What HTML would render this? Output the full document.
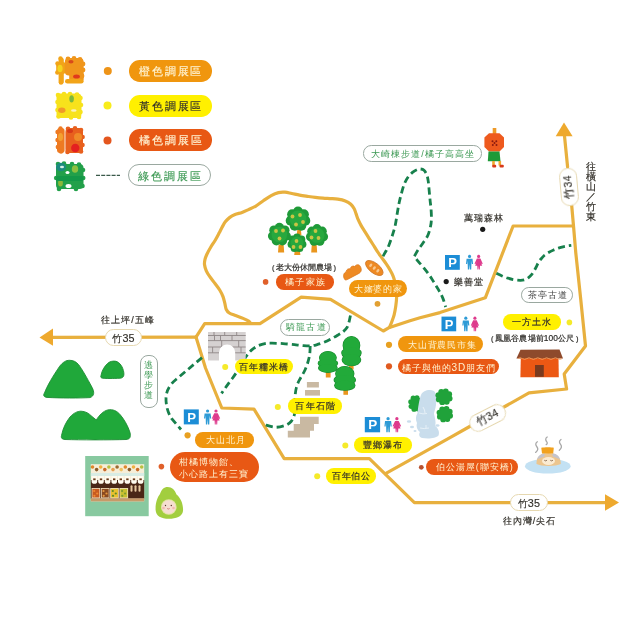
<!DOCTYPE html>
<html><head><meta charset="utf-8"><style>
html,body{margin:0;padding:0;background:#fff;}
#c{position:relative;filter:blur(0.35px);width:640px;height:640px;overflow:hidden;background:#fff;font-family:"Liberation Sans",sans-serif;}
#c svg{position:absolute;left:0;top:0;will-change:transform;}
.p{position:absolute;will-change:transform;box-sizing:content-box;text-align:center;white-space:nowrap;overflow:hidden;}
.t{position:absolute;will-change:transform;white-space:nowrap;line-height:1.2;-webkit-text-stroke:0.2px #33302A;}
</style></head><body><div id="c">
<svg width="640" height="640" viewBox="0 0 640 640">
<polyline points="52,337.4 196,337.2" fill="none" stroke="#E8B03E" stroke-width="3.2" stroke-linejoin="round" stroke-linecap="round"/>
<polyline points="196,337.2 204.7,323.7 260,323.6 301.2,297.2 330.5,299.3 383.3,331 389.5,327.4 410,320.7 420,317.8 440,312.6 485.3,297.8 513.1,226 573.4,226" fill="none" stroke="#E8B03E" stroke-width="3.2" stroke-linejoin="round" stroke-linecap="round"/>
<polyline points="564.5,136 567.6,167" fill="none" stroke="#E8B03E" stroke-width="3.2" stroke-linejoin="round" stroke-linecap="round"/>
<polyline points="571.7,205.5 573.6,227 575.8,253 580.8,300 583.2,323.4 585.5,346 564.2,374 566.6,389 529,392.8 504,407 470.6,426 450,437.6 385.5,473.6" fill="none" stroke="#E8B03E" stroke-width="3.2" stroke-linejoin="round" stroke-linecap="round"/>
<polyline points="196,337 205.5,368 221.8,408 254,409.2 284.2,458.6 369.4,458.6 414.4,502.6 605,502.6" fill="none" stroke="#E8B03E" stroke-width="3.2" stroke-linejoin="round" stroke-linecap="round"/>
<path d="M250.60,323.20 C250.28,322.87 249.95,322.00 248.70,321.20 C247.45,320.40 245.28,319.33 243.10,318.40 C240.92,317.47 237.90,316.50 235.60,315.60 C233.30,314.70 230.85,314.02 229.30,313.00 C227.75,311.98 227.05,311.13 226.30,309.50 C225.55,307.87 225.35,305.35 224.80,303.20 C224.25,301.05 223.85,298.80 223.00,296.60 C222.15,294.40 221.03,292.18 219.70,290.00 C218.37,287.82 216.65,285.72 215.00,283.50 C213.35,281.28 211.25,278.82 209.80,276.70 C208.35,274.58 207.18,272.83 206.30,270.80 C205.42,268.77 204.72,266.40 204.50,264.50 C204.28,262.60 204.60,261.12 205.00,259.40 C205.40,257.68 205.95,256.23 206.90,254.20 C207.85,252.17 209.32,249.53 210.70,247.20 C212.08,244.87 213.80,242.55 215.20,240.20 C216.60,237.85 217.92,235.32 219.10,233.10 C220.28,230.88 221.23,228.82 222.30,226.90 C223.37,224.98 224.30,223.15 225.50,221.60 C226.70,220.05 227.92,218.78 229.50,217.60 C231.08,216.42 232.92,215.37 235.00,214.50 C237.08,213.63 239.75,213.22 242.00,212.40 C244.25,211.58 246.25,210.62 248.50,209.60 C250.75,208.58 253.03,207.77 255.50,206.30 C257.97,204.83 260.68,202.58 263.30,200.80 C265.92,199.02 268.67,196.97 271.20,195.60 C273.73,194.23 276.20,193.17 278.50,192.60 C280.80,192.03 282.78,192.05 285.00,192.20 C287.22,192.35 289.37,193.02 291.80,193.50 C294.23,193.98 297.00,194.63 299.60,195.10 C302.20,195.57 304.78,195.92 307.40,196.30 C310.02,196.68 312.70,197.08 315.30,197.40 C317.90,197.72 320.55,198.00 323.00,198.20 C325.45,198.40 327.53,198.45 330.00,198.60 C332.47,198.75 335.25,198.72 337.80,199.10 C340.35,199.48 343.13,200.03 345.30,200.90 C347.47,201.77 349.32,202.98 350.80,204.30 C352.28,205.62 353.33,207.25 354.20,208.80 C355.07,210.35 355.33,211.78 356.00,213.60 C356.67,215.42 357.32,217.65 358.20,219.70 C359.08,221.75 360.13,223.82 361.30,225.90 C362.47,227.98 363.88,230.08 365.20,232.20 C366.52,234.32 367.90,236.55 369.20,238.60 C370.50,240.65 371.65,242.37 373.00,244.50 C374.35,246.63 375.82,249.17 377.30,251.40 C378.78,253.63 380.38,255.77 381.90,257.90 C383.42,260.03 385.02,262.13 386.40,264.20 C387.78,266.27 389.12,268.40 390.20,270.30 C391.28,272.20 392.17,273.82 392.90,275.60 C393.63,277.38 394.08,278.85 394.60,281.00 C395.12,283.15 395.67,285.78 396.00,288.50 C396.33,291.22 396.63,294.40 396.60,297.30 C396.57,300.20 396.20,303.02 395.80,305.90 C395.40,308.78 394.83,312.05 394.20,314.60 C393.57,317.15 392.78,319.07 392.00,321.20 C391.22,323.33 389.92,326.37 389.50,327.40" fill="none" stroke="#E8B03E" stroke-width="3.2" stroke-linecap="round"/>
<polygon points="39.5,337.4 53,328.6 53,345.8" fill="#EEA92E"/>
<polygon points="564,122.6 555.7,136.2 572.6,136.2" fill="#EEA92E"/>
<polygon points="619,502.5 605,494.2 605,510.8" fill="#EEA92E"/>
<path d="M383.00,256.20 C383.55,255.25 385.30,252.37 386.30,250.50 C387.30,248.63 387.97,247.58 389.00,245.00 C390.03,242.42 391.45,238.33 392.50,235.00 C393.55,231.67 394.50,228.67 395.30,225.00 C396.10,221.33 396.65,216.75 397.30,213.00 C397.95,209.25 398.48,205.87 399.20,202.50 C399.92,199.13 400.73,195.92 401.60,192.80 C402.47,189.68 403.32,186.43 404.40,183.80 C405.48,181.17 406.70,178.93 408.10,177.00 C409.50,175.07 411.23,173.45 412.80,172.20 C414.37,170.95 416.20,170.03 417.50,169.50 C418.80,168.97 419.52,168.87 420.60,169.00 C421.68,169.13 422.95,169.30 424.00,170.30 C425.05,171.30 426.18,173.12 426.90,175.00 C427.62,176.88 427.92,178.95 428.30,181.60 C428.68,184.25 428.90,187.78 429.20,190.90 C429.50,194.02 429.78,197.17 430.10,200.30 C430.42,203.43 430.88,206.58 431.10,209.70 C431.32,212.82 431.48,216.28 431.40,219.00 C431.32,221.72 431.17,223.33 430.60,226.00 C430.03,228.67 429.27,232.17 428.00,235.00 C426.73,237.83 424.67,240.50 423.00,243.00 C421.33,245.50 419.47,247.73 418.00,250.00 C416.53,252.27 414.83,255.50 414.20,256.60 L414.20,256.60 C414.90,257.43 416.77,259.68 418.40,261.60 C420.03,263.52 422.12,265.77 424.00,268.10 C425.88,270.43 427.97,273.10 429.70,275.60 C431.43,278.10 432.85,280.60 434.40,283.10 C435.95,285.60 437.60,288.10 439.00,290.60 C440.40,293.10 441.68,295.37 442.80,298.10 C443.92,300.83 445.22,305.52 445.70,307.00" fill="none" stroke="#17804C" stroke-width="2.8" stroke-dasharray="7 4"/>
<path d="M350.40,315.50 C350.17,316.58 349.57,320.00 349.00,322.00 C348.43,324.00 348.00,325.87 347.00,327.50 C346.00,329.13 344.40,330.62 343.00,331.80 C341.60,332.98 340.60,333.40 338.60,334.60 C336.60,335.80 333.47,337.70 331.00,339.00 C328.53,340.30 326.22,341.43 323.80,342.40 C321.38,343.37 318.77,344.22 316.50,344.80 C314.23,345.38 312.62,345.78 310.20,345.90 C307.78,346.02 304.63,345.70 302.00,345.50 C299.37,345.30 297.57,345.02 294.40,344.70 C291.23,344.38 286.73,343.85 283.00,343.60 C279.27,343.35 275.02,343.20 272.00,343.20 C268.98,343.20 267.32,343.13 264.90,343.60 C262.48,344.07 259.58,345.03 257.50,346.00 C255.42,346.97 253.88,348.20 252.40,349.40 C250.92,350.60 249.77,351.83 248.60,353.20 C247.43,354.57 246.58,355.77 245.40,357.60 C244.22,359.43 242.82,362.00 241.50,364.20 C240.18,366.40 238.92,368.58 237.50,370.80 C236.08,373.02 234.48,375.40 233.00,377.50 C231.52,379.60 229.93,381.58 228.60,383.40 C227.27,385.22 226.18,386.73 225.00,388.40 C223.82,390.07 222.08,392.57 221.50,393.40" fill="none" stroke="#17804C" stroke-width="2.8" stroke-dasharray="7 4"/>
<path d="M310.20,346.00 C310.12,347.40 310.10,351.65 309.70,354.40 C309.30,357.15 308.58,359.90 307.80,362.50 C307.02,365.10 306.03,367.72 305.00,370.00 C303.97,372.28 302.67,374.28 301.60,376.20 C300.53,378.12 299.47,379.62 298.60,381.50 C297.73,383.38 296.95,385.42 296.40,387.50 C295.85,389.58 295.53,391.75 295.30,394.00 C295.07,396.25 295.08,398.58 295.00,401.00 C294.92,403.42 294.93,406.08 294.80,408.50 C294.67,410.92 294.78,413.38 294.20,415.50 C293.62,417.62 292.75,419.57 291.30,421.20 C289.85,422.83 288.13,424.28 285.50,425.30 C282.87,426.32 278.67,427.32 275.50,427.30 C272.33,427.28 268.48,425.78 266.50,425.20 C264.52,424.62 264.08,424.03 263.60,423.80" fill="none" stroke="#17804C" stroke-width="2.8" stroke-dasharray="7 4"/>
<path d="M202,357.6 L176,379.5 C170,384.5 166.5,390 166,397.5 C165.8,405 167.5,412 171.5,418.5 L181,429.5" fill="none" stroke="#17804C" stroke-width="2.8" stroke-dasharray="7 4"/>
<path d="M496.40,273.30 C497.33,273.75 500.07,275.18 502.00,276.00 C503.93,276.82 505.92,277.57 508.00,278.20 C510.08,278.83 512.40,279.45 514.50,279.80 C516.60,280.15 518.85,280.33 520.60,280.30 C522.35,280.27 523.67,280.05 525.00,279.60 C526.33,279.15 527.50,278.43 528.60,277.60 C529.70,276.77 530.70,275.70 531.60,274.60 C532.50,273.50 533.23,272.27 534.00,271.00 C534.77,269.73 535.50,268.33 536.20,267.00 C536.90,265.67 537.40,264.33 538.20,263.00 C539.00,261.67 539.95,260.28 541.00,259.00 C542.05,257.72 543.17,256.42 544.50,255.30 C545.83,254.18 547.48,253.18 549.00,252.30 C550.52,251.42 552.03,250.68 553.60,250.00 C555.17,249.32 556.83,248.73 558.40,248.20 C559.97,247.67 561.57,247.17 563.00,246.80 C564.43,246.43 565.62,246.23 567.00,246.00 C568.38,245.77 570.58,245.50 571.30,245.40" fill="none" stroke="#17804C" stroke-width="2.8" stroke-dasharray="7 4"/>
<circle cx="107.8" cy="71" r="4" fill="#EE9418"/>
<circle cx="107.5" cy="105.6" r="4" fill="#F8EC1C"/>
<circle cx="107.5" cy="140.5" r="4" fill="#E4561E"/>
<line x1="96" y1="175.4" x2="120" y2="175.4" stroke="#3A5A4A" stroke-width="1.1" stroke-dasharray="4 1.2"/>
<rect x="58.6" y="57.5" width="5.2" height="26.5" rx="2.6" fill="#F2A418"/><rect x="56.2" y="62" width="9.5" height="12" rx="3" fill="#F2A418"/><circle cx="57.5" cy="63.5" r="2.2" fill="#F2A418"/><circle cx="57.3" cy="72.5" r="2.2" fill="#F2A418"/><circle cx="60.5" cy="58.5" r="2.2" fill="#F2A418"/><circle cx="61" cy="82.5" r="2.2" fill="#F2A418"/><ellipse cx="60" cy="68.5" rx="2.6" ry="3.8" fill="#F4D41E"/><rect x="64.8" y="58" width="18.8" height="17.5" rx="4" fill="#F0961C"/><circle cx="68" cy="59" r="2.4" fill="#F0961C"/><circle cx="74" cy="58.5" r="2.4" fill="#F0961C"/><circle cx="80" cy="59.5" r="2.4" fill="#F0961C"/><circle cx="83" cy="64" r="2.4" fill="#F0961C"/><circle cx="83" cy="70" r="2.4" fill="#F0961C"/><circle cx="82" cy="76" r="2.4" fill="#F0961C"/><rect x="69.2" y="71" width="14.5" height="11" rx="3" fill="#F0961C"/><rect x="65" y="79" width="18.6" height="4.6" rx="2.3" fill="#F2A418"/><ellipse cx="71" cy="61.8" rx="2.6" ry="1.8" fill="#D84A1A"/><ellipse cx="76.5" cy="76.5" rx="3.4" ry="2.1" fill="#E03A1C"/><rect x="56.5" y="93.5" width="25" height="24.5" rx="4" fill="#F7E21C"/><circle cx="58" cy="95" r="2.3" fill="#F7E21C"/><circle cx="64" cy="94" r="2.3" fill="#F7E21C"/><circle cx="70" cy="94" r="2.3" fill="#F7E21C"/><circle cx="77" cy="94.5" r="2.3" fill="#F7E21C"/><circle cx="80.5" cy="98" r="2.3" fill="#F7E21C"/><circle cx="81" cy="105" r="2.3" fill="#F7E21C"/><circle cx="80.5" cy="112" r="2.3" fill="#F7E21C"/><circle cx="79" cy="117" r="2.3" fill="#F7E21C"/><circle cx="57.5" cy="102" r="2.3" fill="#F7E21C"/><circle cx="57.5" cy="110" r="2.3" fill="#F7E21C"/><circle cx="58.5" cy="116.5" r="2.3" fill="#F7E21C"/><circle cx="71" cy="117.5" r="2.3" fill="#F7E21C"/><ellipse cx="71.6" cy="98.8" rx="2.3" ry="3.6" fill="#7DB83A"/><ellipse cx="61.8" cy="110.2" rx="3.7" ry="2.8" fill="#F09A28"/><ellipse cx="73.8" cy="110.5" rx="2.8" ry="1.3" fill="#FAF2C0"/><circle cx="65" cy="119.5" r="1.6" fill="#fff"/><circle cx="75.5" cy="119.5" r="1.5" fill="#fff"/><rect x="57" y="128" width="7.6" height="25" rx="3" fill="#EE7A22"/><circle cx="57.5" cy="132" r="2.2" fill="#EE7A22"/><circle cx="57.5" cy="140" r="2.2" fill="#EE7A22"/><circle cx="57.8" cy="147" r="2.2" fill="#EE7A22"/><circle cx="61" cy="151.5" r="2.2" fill="#EE7A22"/><circle cx="60.5" cy="128.5" r="2.2" fill="#EE7A22"/><rect x="65.4" y="128" width="17.6" height="25" rx="4" fill="#E8601E"/><circle cx="68" cy="128.7" r="2.3" fill="#E8601E"/><circle cx="75" cy="128.3" r="2.3" fill="#E8601E"/><circle cx="81" cy="130" r="2.3" fill="#E8601E"/><circle cx="82.6" cy="137" r="2.3" fill="#E8601E"/><circle cx="82.5" cy="145" r="2.3" fill="#E8601E"/><circle cx="81" cy="151.5" r="2.3" fill="#E8601E"/><circle cx="67.5" cy="152" r="2.3" fill="#E8601E"/><ellipse cx="70" cy="131" rx="3" ry="2" fill="#D83A18"/><ellipse cx="78" cy="137" rx="4" ry="4" fill="#F08A28"/><ellipse cx="60.5" cy="137" rx="2.5" ry="4" fill="#F4A030"/><ellipse cx="75.3" cy="148" rx="4.2" ry="4.3" fill="#E42020"/><rect x="56" y="164" width="27.5" height="25" rx="4" fill="#22A04A"/><circle cx="58" cy="164" r="2.3" fill="#22A04A"/><circle cx="64" cy="163.5" r="2.3" fill="#22A04A"/><circle cx="72" cy="164" r="2.3" fill="#22A04A"/><circle cx="79" cy="164.5" r="2.3" fill="#22A04A"/><circle cx="83" cy="170" r="2.3" fill="#22A04A"/><circle cx="83.2" cy="178" r="2.3" fill="#22A04A"/><circle cx="82.5" cy="186" r="2.3" fill="#22A04A"/><circle cx="76" cy="189" r="2.3" fill="#22A04A"/><circle cx="59" cy="189" r="2.3" fill="#22A04A"/><circle cx="56.2" cy="178" r="2.3" fill="#22A04A"/><ellipse cx="61" cy="167" rx="5" ry="4.3" fill="#1C8A80"/><ellipse cx="62" cy="167" rx="2" ry="1.3" fill="#D8F0E8"/><ellipse cx="75" cy="169" rx="3.2" ry="3.8" fill="#8CC040"/><ellipse cx="60.5" cy="183" rx="2.4" ry="3.5" fill="#8CB83A"/><rect x="56" y="176" width="27.5" height="5" rx="2" fill="#139848"/><ellipse cx="68.5" cy="186" rx="3" ry="2" fill="#fff"/><ellipse cx="67.5" cy="172.5" rx="2" ry="1.6" fill="#fff"/>
<circle cx="265.6" cy="281.9" r="2.8" fill="#E0602A"/>
<circle cx="377.5" cy="303.8" r="2.9" fill="#E2A032"/>
<circle cx="225.2" cy="367.1" r="3" fill="#F5EA2A"/>
<circle cx="277.8" cy="406.9" r="3" fill="#F5EA2A"/>
<circle cx="187.6" cy="435.3" r="3.1" fill="#E8A020"/>
<circle cx="161.4" cy="466.6" r="2.8" fill="#E0602A"/>
<circle cx="345.3" cy="445.5" r="3" fill="#F5EA2A"/>
<circle cx="317.2" cy="476.3" r="3" fill="#F5EA2A"/>
<circle cx="389" cy="344.8" r="3.1" fill="#E8A020"/>
<circle cx="389" cy="366.3" r="3.1" fill="#E05A20"/>
<circle cx="421.3" cy="467.3" r="2.4" fill="#B8502E"/>
<circle cx="569.4" cy="322.4" r="2.8" fill="#F5EA2A"/>
<circle cx="482.7" cy="229.3" r="2.6" fill="#1A1A1A"/>
<circle cx="446.2" cy="281.6" r="2.6" fill="#1A1A1A"/>
<rect x="445" y="255" width="14.8" height="14.8" fill="#1C8DD6"/><text x="452.70" y="266.99" font-family="Liberation Sans" font-weight="bold" font-size="13.02" fill="#fff" text-anchor="middle">P</text><g fill="#2E9BD6" transform="translate(466,254.8) scale(0.9866666666666667)"><circle cx="3.6" cy="1.6" r="1.6"/><path d="M0.6,4 H6.6 L7.2,9.2 H6 L5.6,6 L5.3,15 H4 L3.6,9.5 L3.2,15 H1.9 L1.6,6 L1.2,9.2 H0 Z"/></g><g fill="#DE3A8C" transform="translate(474.5,254.8) scale(0.9866666666666667)"><circle cx="4.2" cy="1.6" r="1.6"/><path d="M2.4,3.8 H6 L8.4,9 L7.3,9.4 L6.2,7 L7.8,11.2 H5.6 L5.4,15 H4.5 L4.2,11.2 L3.9,15 H3 L2.8,11.2 H0.6 L2.2,7 L1.1,9.4 L0,9 Z"/></g>
<rect x="441.5" y="316.6" width="14.7" height="14.7" fill="#1C8DD6"/><text x="449.14" y="328.51" font-family="Liberation Sans" font-weight="bold" font-size="12.94" fill="#fff" text-anchor="middle">P</text><g fill="#2E9BD6" transform="translate(462.3,316.6) scale(0.98)"><circle cx="3.6" cy="1.6" r="1.6"/><path d="M0.6,4 H6.6 L7.2,9.2 H6 L5.6,6 L5.3,15 H4 L3.6,9.5 L3.2,15 H1.9 L1.6,6 L1.2,9.2 H0 Z"/></g><g fill="#DE3A8C" transform="translate(470.8,316.6) scale(0.98)"><circle cx="4.2" cy="1.6" r="1.6"/><path d="M2.4,3.8 H6 L8.4,9 L7.3,9.4 L6.2,7 L7.8,11.2 H5.6 L5.4,15 H4.5 L4.2,11.2 L3.9,15 H3 L2.8,11.2 H0.6 L2.2,7 L1.1,9.4 L0,9 Z"/></g>
<rect x="364.8" y="417" width="15.3" height="15.3" fill="#1C8DD6"/><text x="372.76" y="429.39" font-family="Liberation Sans" font-weight="bold" font-size="13.46" fill="#fff" text-anchor="middle">P</text><g fill="#2E9BD6" transform="translate(384.4,417) scale(1.02)"><circle cx="3.6" cy="1.6" r="1.6"/><path d="M0.6,4 H6.6 L7.2,9.2 H6 L5.6,6 L5.3,15 H4 L3.6,9.5 L3.2,15 H1.9 L1.6,6 L1.2,9.2 H0 Z"/></g><g fill="#DE3A8C" transform="translate(392.6,417) scale(1.02)"><circle cx="4.2" cy="1.6" r="1.6"/><path d="M2.4,3.8 H6 L8.4,9 L7.3,9.4 L6.2,7 L7.8,11.2 H5.6 L5.4,15 H4.5 L4.2,11.2 L3.9,15 H3 L2.8,11.2 H0.6 L2.2,7 L1.1,9.4 L0,9 Z"/></g>
<rect x="183.8" y="409.4" width="15" height="15" fill="#1C8DD6"/><text x="191.60" y="421.55" font-family="Liberation Sans" font-weight="bold" font-size="13.20" fill="#fff" text-anchor="middle">P</text><g fill="#2E9BD6" transform="translate(204,409.4) scale(1.0)"><circle cx="3.6" cy="1.6" r="1.6"/><path d="M0.6,4 H6.6 L7.2,9.2 H6 L5.6,6 L5.3,15 H4 L3.6,9.5 L3.2,15 H1.9 L1.6,6 L1.2,9.2 H0 Z"/></g><g fill="#DE3A8C" transform="translate(211.8,409.4) scale(1.0)"><circle cx="4.2" cy="1.6" r="1.6"/><path d="M2.4,3.8 H6 L8.4,9 L7.3,9.4 L6.2,7 L7.8,11.2 H5.6 L5.4,15 H4.5 L4.2,11.2 L3.9,15 H3 L2.8,11.2 H0.6 L2.2,7 L1.1,9.4 L0,9 Z"/></g>
<path d="M297.3,230 L300.90000000000003,230 L301.50000000000006,235.5 L296.7,235.5 Z" fill="#E9961E"/><circle cx="298.00" cy="211.56" r="5.04" fill="#1F9A38"/><circle cx="303.82" cy="214.36" r="5.04" fill="#1F9A38"/><circle cx="305.25" cy="220.66" r="5.04" fill="#1F9A38"/><circle cx="301.23" cy="225.70" r="5.04" fill="#1F9A38"/><circle cx="294.77" cy="225.70" r="5.04" fill="#1F9A38"/><circle cx="290.75" cy="220.66" r="5.04" fill="#1F9A38"/><circle cx="292.18" cy="214.36" r="5.04" fill="#1F9A38"/><circle cx="298" cy="219" r="8.40" fill="#27A83E"/><circle cx="292.5" cy="216.5" r="1.9" fill="#CBC444"/><circle cx="300" cy="215" r="1.9" fill="#CBC444"/><circle cx="303" cy="222" r="1.9" fill="#CBC444"/><circle cx="296" cy="224.5" r="1.9" fill="#CBC444"/>
<path d="M278.6,244.5 L283.6,244.5 L284.20000000000005,252.5 L278.0,252.5 Z" fill="#E9961E"/><circle cx="279.40" cy="227.56" r="4.70" fill="#1F9A38"/><circle cx="284.83" cy="230.17" r="4.70" fill="#1F9A38"/><circle cx="286.17" cy="236.05" r="4.70" fill="#1F9A38"/><circle cx="282.41" cy="240.76" r="4.70" fill="#1F9A38"/><circle cx="276.39" cy="240.76" r="4.70" fill="#1F9A38"/><circle cx="272.63" cy="236.05" r="4.70" fill="#1F9A38"/><circle cx="273.97" cy="230.17" r="4.70" fill="#1F9A38"/><circle cx="279.4" cy="234.5" r="7.84" fill="#27A83E"/><circle cx="276" cy="231" r="1.9" fill="#CBC444"/><circle cx="283" cy="230.5" r="1.9" fill="#CBC444"/><circle cx="279.5" cy="238.5" r="1.9" fill="#CBC444"/>
<path d="M311.8,244.5 L316.6,244.5 L317.20000000000005,252.5 L311.2,252.5 Z" fill="#E9961E"/><circle cx="317.00" cy="228.60" r="4.54" fill="#1F9A38"/><circle cx="322.24" cy="231.13" r="4.54" fill="#1F9A38"/><circle cx="323.53" cy="236.79" r="4.54" fill="#1F9A38"/><circle cx="319.91" cy="241.33" r="4.54" fill="#1F9A38"/><circle cx="314.09" cy="241.33" r="4.54" fill="#1F9A38"/><circle cx="310.47" cy="236.79" r="4.54" fill="#1F9A38"/><circle cx="311.76" cy="231.13" r="4.54" fill="#1F9A38"/><circle cx="317" cy="235.3" r="7.56" fill="#27A83E"/><circle cx="315.5" cy="231" r="1.9" fill="#CBC444"/><circle cx="311.5" cy="237.5" r="1.9" fill="#CBC444"/><circle cx="318.5" cy="238" r="1.9" fill="#CBC444"/>
<path d="M294.8,250.5 L299.8,250.5 L300.40000000000003,255.0 L294.2,255.0 Z" fill="#E9961E"/><circle cx="297.00" cy="237.30" r="3.86" fill="#1F9A38"/><circle cx="301.46" cy="239.44" r="3.86" fill="#1F9A38"/><circle cx="302.56" cy="244.27" r="3.86" fill="#1F9A38"/><circle cx="299.47" cy="248.14" r="3.86" fill="#1F9A38"/><circle cx="294.53" cy="248.14" r="3.86" fill="#1F9A38"/><circle cx="291.44" cy="244.27" r="3.86" fill="#1F9A38"/><circle cx="292.54" cy="239.44" r="3.86" fill="#1F9A38"/><circle cx="297" cy="243" r="6.44" fill="#27A83E"/><circle cx="296.5" cy="241" r="1.9" fill="#CBC444"/><circle cx="293.5" cy="247" r="1.9" fill="#CBC444"/><circle cx="300.5" cy="247" r="1.9" fill="#CBC444"/>
<rect x="325.8" y="371" width="4.8" height="6.5" fill="#E9961E"/><ellipse cx="327.9" cy="357.87" rx="8.32" ry="6.27" fill="#1A8C30" stroke="#1A8C30" stroke-width="1.2"/><ellipse cx="327.9" cy="363.30" rx="9.70" ry="4.18" fill="#1A8C30" stroke="#1A8C30" stroke-width="1.2"/><ellipse cx="327.9" cy="368.11" rx="9.31" ry="4.18" fill="#1A8C30" stroke="#1A8C30" stroke-width="1.2"/><ellipse cx="327.9" cy="357.87" rx="8.32" ry="6.27" fill="#22AA3A"/><ellipse cx="327.9" cy="363.30" rx="9.70" ry="4.18" fill="#22AA3A"/><ellipse cx="327.9" cy="368.11" rx="9.31" ry="4.18" fill="#22AA3A"/>
<rect x="349" y="364" width="4.6" height="5.5" fill="#E9961E"/><ellipse cx="351.45000000000005" cy="345.42" rx="8.27" ry="8.82" fill="#1A8C30" stroke="#1A8C30" stroke-width="1.2"/><ellipse cx="351.45000000000005" cy="353.06" rx="9.65" ry="5.88" fill="#1A8C30" stroke="#1A8C30" stroke-width="1.2"/><ellipse cx="351.45000000000005" cy="359.83" rx="9.26" ry="5.88" fill="#1A8C30" stroke="#1A8C30" stroke-width="1.2"/><ellipse cx="351.45000000000005" cy="345.42" rx="8.27" ry="8.82" fill="#22AA3A"/><ellipse cx="351.45000000000005" cy="353.06" rx="9.65" ry="5.88" fill="#22AA3A"/><ellipse cx="351.45000000000005" cy="359.83" rx="9.26" ry="5.88" fill="#22AA3A"/>
<rect x="343.4" y="389" width="4.6" height="5.8" fill="#E9961E"/><ellipse cx="344.8" cy="373.77" rx="9.07" ry="7.17" fill="#1A8C30" stroke="#1A8C30" stroke-width="1.2"/><ellipse cx="344.8" cy="379.98" rx="10.58" ry="4.78" fill="#1A8C30" stroke="#1A8C30" stroke-width="1.2"/><ellipse cx="344.8" cy="385.48" rx="10.15" ry="4.78" fill="#1A8C30" stroke="#1A8C30" stroke-width="1.2"/><ellipse cx="344.8" cy="373.77" rx="9.07" ry="7.17" fill="#22AA3A"/><ellipse cx="344.8" cy="379.98" rx="10.58" ry="4.78" fill="#22AA3A"/><ellipse cx="344.8" cy="385.48" rx="10.15" ry="4.78" fill="#22AA3A"/>
<g><clipPath id="brc"><path d="M208,332 H245.7 V360.4 H235.2 V352.5 A8.1,8.1 0 0 0 219,352.5 V360.4 H208 Z"/></clipPath><path d="M208,332 H245.7 V360.4 H235.2 V352.5 A8.1,8.1 0 0 0 219,352.5 V360.4 H208 Z" fill="#D5D1D1"/><g clip-path="url(#brc)"><line x1="208" y1="335.5" x2="246" y2="335.5" stroke="#8E8787" stroke-width="0.9"/><line x1="208" y1="340.6" x2="246" y2="340.6" stroke="#8E8787" stroke-width="0.9"/><line x1="208" y1="347" x2="246" y2="347" stroke="#8E8787" stroke-width="0.9"/><line x1="208" y1="352.8" x2="246" y2="352.8" stroke="#8E8787" stroke-width="0.9"/><line x1="214" y1="332" x2="214" y2="335.5" stroke="#8E8787" stroke-width="0.9"/><line x1="224.7" y1="332" x2="224.7" y2="335.5" stroke="#8E8787" stroke-width="0.9"/><line x1="236.7" y1="332" x2="236.7" y2="335.5" stroke="#8E8787" stroke-width="0.9"/><line x1="214.5" y1="335.5" x2="214.5" y2="340.6" stroke="#8E8787" stroke-width="0.9"/><line x1="220.5" y1="335.5" x2="220.5" y2="340.6" stroke="#8E8787" stroke-width="0.9"/><line x1="232" y1="335.5" x2="232" y2="340.6" stroke="#8E8787" stroke-width="0.9"/><line x1="221.7" y1="340.6" x2="221.7" y2="347" stroke="#8E8787" stroke-width="0.9"/><line x1="238.7" y1="340.6" x2="238.7" y2="347" stroke="#8E8787" stroke-width="0.9"/><line x1="212.6" y1="347" x2="212.6" y2="352.8" stroke="#8E8787" stroke-width="0.9"/><line x1="241" y1="347" x2="241" y2="352.8" stroke="#8E8787" stroke-width="0.9"/></g></g>
<rect x="306.9" y="382" width="12" height="5.5" fill="#C9B9A2"/><rect x="305" y="390" width="15" height="5.6" fill="#C9B9A2"/>
<path d="M300,416.7 H318.7 V424.1 H314 V430.8 H310 V437.4 H287.8 V430.8 H293.7 V424.1 H300 Z" fill="#C9B9A2"/>
<path d="M44.5,393 C47,386 53,376 59.7,366.2 C63,362 66,360.3 69.5,360.3 C73,360.3 76,361.5 78.5,364.5 C82,369 87,378 92,387.3 C94.5,392 94.5,396 90,397.6 C80,398.2 60,398.2 47,397.4 C43.5,397 43,395 44.5,393 Z" fill="#20A83A" stroke="#1E8C34" stroke-width="0.9"/>
<path d="M101,375.5 C102,370 104.5,366.5 107.5,363.5 C110,361.3 113,360.7 116,361.3 C120,362.5 123,367 123.8,372.5 C124.3,376.5 123,378 120,378.2 C113,378.6 106,378.6 103,378.2 C100.6,378 100.5,377 101,375.5 Z" fill="#20A83A" stroke="#1E8C34" stroke-width="0.9"/>
<path d="M61.5,435.5 C63,428 66,422 70,417 C73.5,413 77.5,411.2 81,411.2 C85.5,411.2 89,413.5 92,416.5 L96.3,420 C99,415.5 103,411 108,409.9 C113,409 117,411 120,414.5 C124,419 128,426 130,432.5 C131,437 130,439.3 126,439.5 C110,440 80,440 65,439.5 C61.5,439.3 61,437.5 61.5,435.5 Z" fill="#20A83A" stroke="#1E8C34" stroke-width="0.9"/>
<path d="M520.8,358 L558.5,358 L558.8,377.3 L520.4,377.3 Z" fill="#EC5814"/>
<path d="M520.5,349.8 L559.5,349.5 L563,358.5 L516.4,358.5 Z" fill="#8E4A2C"/>
<path d="M518,358.6 q2.2,-1.6 4.4,0 t4.4,0 t4.4,0 t4.4,0 t4.4,0 t4.4,0 t4.4,0 t4.4,0 t4.4,0 t4.4,0" fill="none" stroke="#F4A060" stroke-width="0.9"/>
<rect x="535" y="365" width="8.8" height="11.8" fill="#7A3A1E"/>
<circle cx="420.18" cy="405.27" r="2.59" fill="#20A23A"/><circle cx="417.78" cy="408.79" r="2.59" fill="#20A23A"/><circle cx="414.05" cy="409.22" r="2.59" fill="#20A23A"/><circle cx="411.17" cy="406.29" r="2.59" fill="#20A23A"/><circle cx="410.82" cy="401.73" r="2.59" fill="#20A23A"/><circle cx="413.22" cy="398.21" r="2.59" fill="#20A23A"/><circle cx="416.95" cy="397.78" r="2.59" fill="#20A23A"/><circle cx="419.83" cy="400.71" r="2.59" fill="#20A23A"/><ellipse cx="415.5" cy="403.5" rx="5.4" ry="6.6000000000000005" fill="#20A23A"/>
<path d="M421,395 C423,390 430,388.8 434,391 C437,394 436.5,400 436,405 C435.5,409 434,412 434,414 C435,418 436.2,422 435.2,426 C438,428 440,432 438.5,435.5 C436,438.5 428,439 422,438 C419,437 418.5,434 420,432 C417,430 416,426 417,423 C415.5,420 415.5,416 417.5,413 C418,409 419,400 421,395 Z" fill="#C9DDEC"/>
<ellipse cx="409" cy="421.5" rx="2.2" ry="1.3" fill="#C9DDEC"/><ellipse cx="412" cy="427" rx="2" ry="1.2" fill="#C9DDEC"/><ellipse cx="437.5" cy="425.5" rx="2" ry="1.2" fill="#C9DDEC"/><ellipse cx="415" cy="431" rx="1.5" ry="1" fill="#C9DDEC"/>
<path d="M419,413 q4,1.5 8,0.5 M423,407 q2,3 2,6 M420,428 q4,1.2 9,0 M426,428 l0,-3" stroke="#EEF5FA" stroke-width="0.8" fill="none"/>
<circle cx="449.59" cy="398.45" r="2.95" fill="#20A23A"/><circle cx="446.73" cy="401.73" r="2.95" fill="#20A23A"/><circle cx="442.27" cy="402.13" r="2.95" fill="#20A23A"/><circle cx="438.83" cy="399.40" r="2.95" fill="#20A23A"/><circle cx="438.41" cy="395.15" r="2.95" fill="#20A23A"/><circle cx="441.27" cy="391.87" r="2.95" fill="#20A23A"/><circle cx="445.73" cy="391.47" r="2.95" fill="#20A23A"/><circle cx="449.17" cy="394.20" r="2.95" fill="#20A23A"/><ellipse cx="444" cy="396.8" rx="6.449999999999999" ry="6.1499999999999995" fill="#20A23A"/>
<circle cx="450.13" cy="415.81" r="2.88" fill="#20A23A"/><circle cx="447.40" cy="419.01" r="2.88" fill="#20A23A"/><circle cx="443.15" cy="419.40" r="2.88" fill="#20A23A"/><circle cx="439.87" cy="416.74" r="2.88" fill="#20A23A"/><circle cx="439.47" cy="412.59" r="2.88" fill="#20A23A"/><circle cx="442.20" cy="409.39" r="2.88" fill="#20A23A"/><circle cx="446.45" cy="409.00" r="2.88" fill="#20A23A"/><circle cx="449.73" cy="411.66" r="2.88" fill="#20A23A"/><ellipse cx="444.8" cy="414.2" rx="6.1499999999999995" ry="6.0" fill="#20A23A"/>
<g transform="translate(352,272) rotate(-28)"><path d="M-10,3 C-10,-1 -8,-3 -5,-3 C-4,-5 -1,-5 0,-3.5 C1,-5.5 4,-5.5 5,-3.5 C7,-5 10,-4 10,-1 C10,3 8,4.5 5,4.5 L-7,4.5 C-9,4.5 -10,4 -10,3 Z" fill="#EE8A24" stroke="#D87418" stroke-width="0.6"/></g>
<g transform="translate(374.3,268) rotate(38)"><ellipse cx="0" cy="0" rx="10.5" ry="5" fill="#EE8A24" stroke="#C86E1E" stroke-width="0.7"/><ellipse cx="-4.5" cy="0" rx="1.3" ry="1.9" fill="#F8C890"/><ellipse cx="0" cy="0" rx="1.3" ry="1.9" fill="#F8C890"/><ellipse cx="4.5" cy="0" rx="1.3" ry="1.9" fill="#F8C890"/></g>
<rect x="492.7" y="128" width="3.6" height="6.5" fill="#EE9A28"/>
<path d="M484.4,137.5 L489,133.2 L499.5,133.2 L504,137.5 L504,147 L499.5,151.6 L489,151.6 L484.4,147 Z" fill="#EE5A1E"/>
<g fill="#8A1A10"><circle cx="492.5" cy="141.3" r="1"/><circle cx="496.3" cy="141.3" r="1"/><circle cx="494.5" cy="143" r="1"/><circle cx="492.8" cy="145" r="1"/><circle cx="496.5" cy="145" r="1"/></g>
<path d="M488.5,151.5 L499.5,151.5 L500.5,161.3 L487.8,161.3 Z" fill="#1E9A38"/>
<rect x="492.2" y="161" width="2.6" height="4.5" fill="#EEAA30"/><rect x="498.5" y="161" width="2.6" height="4.5" fill="#EEAA30"/>
<rect x="492.2" y="164.8" width="4" height="2.6" rx="1" fill="#D83A1A"/><rect x="499.5" y="164.8" width="4.3" height="2.6" rx="1" fill="#D83A1A"/>
<ellipse cx="547.8" cy="466.2" rx="22.8" ry="7.4" fill="#C3E1F3"/>
<path d="M536.5,464 C536,457 540.5,453 548.5,453 C556,453 561,457 560.8,464 C556,466.5 541,466.5 536.5,464 Z" fill="#ECC58E"/>
<path d="M537.2,459.5 C538,455.5 541.5,453.5 545,453.3 L544,457 C541.5,457 539,458.5 537.2,459.5 Z M560,459.5 C559,455.5 556,453.5 552,453.3 L553,457 C555.5,457 558,458.5 560,459.5 Z" fill="#C4C4CC"/>
<ellipse cx="548.5" cy="461" rx="6.5" ry="4" fill="#FBEBD2"/>
<path d="M541.3,447.8 C544,447 552,447 553.8,447.8 L553.2,453.4 L542,453.4 Z" fill="#F2A21E"/>
<path d="M544.3,460.3 q1.3,1.1 2.6,0 M550.3,460.3 q1.3,1.1 2.6,0" stroke="#5A3A20" stroke-width="0.7" fill="none"/>
<path d="M537.3,441.8 c-2.4,1.5 -1.6,3.5 -0.3,5.2 c1.3,1.7 0.6,3.8 -1.4,5.4 M547.2,437 c-2.2,1.4 -1.6,3.3 -0.4,4.8 c0.8,1 0.5,2 -0.6,2.8 M561,439.5 c-2.4,1.5 -1.6,3.5 -0.3,5.2 c1.3,1.7 0.6,3.8 -1.4,5.6" stroke="#A8A8A8" stroke-width="1.3" fill="none" stroke-linecap="round"/>
<rect x="85.2" y="456" width="63.5" height="60.2" fill="#88C9A0"/><rect x="90.8" y="464.2" width="53.4" height="37.2" fill="#F6EED8"/><rect x="90.8" y="473" width="53.4" height="3" fill="#D8ECE4"/><rect x="90.8" y="480" width="53.4" height="18.6" fill="#4A2616"/><rect x="90.8" y="498.4" width="53.4" height="3" fill="#C89A68"/><circle cx="92.5" cy="467.0" r="1.8" fill="#E0882A"/><circle cx="96.6" cy="469.6" r="1.8" fill="#8A5A2A"/><circle cx="100.7" cy="467.0" r="1.8" fill="#F0B040"/><circle cx="104.8" cy="469.6" r="1.8" fill="#C86A28"/><circle cx="108.9" cy="467.0" r="1.8" fill="#B8C040"/><circle cx="113.0" cy="469.6" r="1.8" fill="#E8A050"/><circle cx="117.1" cy="467.0" r="1.8" fill="#9A6A30"/><circle cx="121.2" cy="469.6" r="1.8" fill="#F0C060"/><circle cx="125.3" cy="467.0" r="1.8" fill="#E0882A"/><circle cx="129.4" cy="469.6" r="1.8" fill="#8A5A2A"/><circle cx="133.5" cy="467.0" r="1.8" fill="#F0B040"/><circle cx="137.6" cy="469.6" r="1.8" fill="#C86A28"/><circle cx="141.7" cy="467.0" r="1.8" fill="#B8C040"/><path d="M91.6,476 h5.6 v5.4 a2.8,2.4 0 0 1 -5.6,0 Z" fill="#FFFBEF"/><rect x="93.2" y="478.4" width="2.4" height="1.8" fill="#6A3A1A"/><path d="M98.2,476 h5.6 v5.4 a2.8,2.4 0 0 1 -5.6,0 Z" fill="#FFFBEF"/><rect x="99.8" y="478.4" width="2.4" height="1.8" fill="#6A3A1A"/><path d="M104.8,476 h5.6 v5.4 a2.8,2.4 0 0 1 -5.6,0 Z" fill="#FFFBEF"/><rect x="106.4" y="478.4" width="2.4" height="1.8" fill="#6A3A1A"/><path d="M111.4,476 h5.6 v5.4 a2.8,2.4 0 0 1 -5.6,0 Z" fill="#FFFBEF"/><rect x="113.0" y="478.4" width="2.4" height="1.8" fill="#6A3A1A"/><path d="M118.0,476 h5.6 v5.4 a2.8,2.4 0 0 1 -5.6,0 Z" fill="#FFFBEF"/><rect x="119.6" y="478.4" width="2.4" height="1.8" fill="#6A3A1A"/><path d="M124.6,476 h5.6 v5.4 a2.8,2.4 0 0 1 -5.6,0 Z" fill="#FFFBEF"/><rect x="126.2" y="478.4" width="2.4" height="1.8" fill="#6A3A1A"/><path d="M131.2,476 h5.6 v5.4 a2.8,2.4 0 0 1 -5.6,0 Z" fill="#FFFBEF"/><rect x="132.8" y="478.4" width="2.4" height="1.8" fill="#6A3A1A"/><path d="M137.8,476 h5.6 v5.4 a2.8,2.4 0 0 1 -5.6,0 Z" fill="#FFFBEF"/><rect x="139.4" y="478.4" width="2.4" height="1.8" fill="#6A3A1A"/><rect x="91.6" y="488" width="8.6" height="10.3" fill="#F0E0C0"/><rect x="92.4" y="488.8" width="7" height="8.7" fill="#C85A20"/><circle cx="94.2" cy="491.0" r="1.1" fill="#F08A30"/><circle cx="97.2" cy="493.5" r="1.1" fill="#F08A30"/><circle cx="94.4" cy="495.8" r="1.1" fill="#F08A30"/><rect x="100.9" y="488" width="8.6" height="10.3" fill="#F0E0C0"/><rect x="101.7" y="488.8" width="7" height="8.7" fill="#8A4A20"/><circle cx="103.5" cy="491.0" r="1.1" fill="#E89A40"/><circle cx="106.5" cy="493.5" r="1.1" fill="#E89A40"/><circle cx="103.7" cy="495.8" r="1.1" fill="#E89A40"/><rect x="110.2" y="488" width="8.6" height="10.3" fill="#F0E0C0"/><rect x="111.0" y="488.8" width="7" height="8.7" fill="#E8C030"/><circle cx="112.8" cy="491.0" r="1.1" fill="#5A8A28"/><circle cx="115.8" cy="493.5" r="1.1" fill="#5A8A28"/><circle cx="113.0" cy="495.8" r="1.1" fill="#5A8A28"/><rect x="119.5" y="488" width="8.6" height="10.3" fill="#F0E0C0"/><rect x="120.3" y="488.8" width="7" height="8.7" fill="#C8C030"/><circle cx="122.1" cy="491.0" r="1.1" fill="#7A9A30"/><circle cx="125.1" cy="493.5" r="1.1" fill="#7A9A30"/><circle cx="122.3" cy="495.8" r="1.1" fill="#7A9A30"/><rect x="130.5" y="485.3" width="2" height="6.5" rx="1" fill="#E8C8A0"/><rect x="134.5" y="485.3" width="2" height="6.5" rx="1" fill="#E8C8A0"/><rect x="138.5" y="485.3" width="2" height="6.5" rx="1" fill="#E8C8A0"/>
<path d="M167.6,487 C172,487 175,490 176.5,494.5 C181,498 183.5,505 183,511 C182.3,516.5 176,518.8 169,518.8 C161,518.8 156,516 155.6,510 C155.3,503 157.5,497 160,494 C161.5,489.5 164,487 167.6,487 Z" fill="#A2CE3E"/>
<circle cx="168.8" cy="507" r="7.8" fill="#E6E4A8"/><circle cx="168.8" cy="507" r="6.8" fill="#F6DED2"/>
<circle cx="165.5" cy="505.5" r="0.7" fill="#5A3A2A"/><circle cx="171.3" cy="505.5" r="0.7" fill="#5A3A2A"/><path d="M167.2,508.5 q1.2,1 2.4,0" stroke="#C04040" stroke-width="0.6" fill="none"/><circle cx="163.5" cy="508" r="1.3" fill="#F4B8B0"/><circle cx="173.5" cy="508" r="1.3" fill="#F4B8B0"/>
</svg>
<div class="p" style="left:128.6px;top:60.2px;width:80.90000000000002px;height:21.5px;line-height:21.5px;border-radius:10.75px;font-size:11px;letter-spacing:1.8px;padding-left:1.8px;background:#F0960E;color:#FFF3D2;-webkit-text-stroke:0.15px currentColor;"><span style="position:relative;top:0.6px;left:0px">橙色調展區</span></div>
<div class="p" style="left:128.6px;top:94.7px;width:80.90000000000002px;height:21.5px;line-height:21.5px;border-radius:10.75px;font-size:11px;letter-spacing:1.8px;padding-left:1.8px;background:#FFF000;color:#33302A;-webkit-text-stroke:0.2px #33302A;-webkit-text-stroke:0.15px currentColor;"><span style="position:relative;top:0.6px;left:0px">黃色調展區</span></div>
<div class="p" style="left:128.6px;top:129.2px;width:81.10000000000001px;height:21.5px;line-height:21.5px;border-radius:10.75px;font-size:11px;letter-spacing:1.8px;padding-left:1.8px;background:#E85814;color:#FFF3D2;-webkit-text-stroke:0.15px currentColor;"><span style="position:relative;top:0.6px;left:0px">橘色調展區</span></div>
<div class="p" style="left:128.4px;top:163.7px;width:79.3px;height:20.200000000000017px;line-height:20.200000000000017px;border-radius:11.100000000000009px;font-size:11px;letter-spacing:1.8px;padding-left:1.8px;background:#fff;border:1px solid #9AA8A0;color:#3E9A55;-webkit-text-stroke:0.15px currentColor;"><span style="position:relative;top:0.6px;left:0px">綠色調展區</span></div>
<div class="p" style="left:363px;top:144.5px;width:116.0px;height:14.5px;line-height:14.5px;border-radius:8.25px;font-size:9px;letter-spacing:1.0px;padding-left:1.0px;background:#fff;border:1px solid #9AA8A0;color:#3E9A55;"><span style="position:relative;top:0.6px;left:0px">大崎棟步道/橘子高高坐</span></div>
<div class="p" style="left:276px;top:274px;width:56.7px;height:15.5px;line-height:15.5px;border-radius:7.75px;font-size:9px;letter-spacing:1.3px;padding-left:1.3px;background:#E85814;color:#FFF3D2;"><span style="position:relative;top:0.6px;left:0px">橘子家族</span></div>
<div class="p" style="left:349px;top:280px;width:57.4px;height:17px;line-height:17px;border-radius:8.5px;font-size:9px;letter-spacing:0.6px;padding-left:0.6px;background:#F0960E;color:#FFF3D2;"><span style="position:relative;top:0.6px;left:0px">大嬸婆的家</span></div>
<div class="p" style="left:280px;top:319px;width:46.8px;height:15px;line-height:15px;border-radius:8.5px;font-size:9px;letter-spacing:1.2px;padding-left:1.2px;background:#fff;border:1px solid #9AA8A0;color:#3E9A55;"><span style="position:relative;top:0px;left:0.8px">騎龍古道</span></div>
<div class="p" style="left:234.7px;top:359.4px;width:56.700000000000024px;height:15.400000000000034px;line-height:15.400000000000034px;border-radius:7.700000000000017px;font-size:9px;letter-spacing:0.9px;padding-left:0.9px;background:#FFF000;color:#33302A;-webkit-text-stroke:0.2px #33302A;"><span style="position:relative;top:0.6px;left:0px">百年糯米橋</span></div>
<div class="p" style="left:288px;top:398.4px;width:53.2px;height:15.5px;line-height:15.5px;border-radius:7.75px;font-size:9px;letter-spacing:1.3px;padding-left:1.3px;background:#FFF000;color:#33302A;-webkit-text-stroke:0.2px #33302A;"><span style="position:relative;top:0.6px;left:0px">百年石階</span></div>
<div class="p" style="left:195px;top:431.5px;width:58.1px;height:15.5px;line-height:15.5px;border-radius:7.75px;font-size:9px;letter-spacing:0.9px;padding-left:0.9px;background:#F0960E;color:#FFF3D2;"><span style="position:relative;top:0.6px;left:1px">大山北月</span></div>
<div class="p" style="left:169.5px;top:452px;width:88.5px;height:30px;line-height:30px;border-radius:15.0px;font-size:9px;letter-spacing:1.0px;padding-left:1.0px;background:#E85814;color:#FFF3D2;line-height:12.5px;text-align:left;padding-left:9px;width:80px;padding-top:3px;height:27px;"><span style="position:relative;top:0.6px;left:0px">柑橘博物館、<br>小心路上有三寶</span></div>
<div class="p" style="left:354px;top:437px;width:56.79999999999999px;height:15.699999999999989px;line-height:15.699999999999989px;border-radius:7.849999999999994px;font-size:9px;letter-spacing:0.9px;padding-left:0.9px;background:#FFF000;color:#33302A;-webkit-text-stroke:0.2px #33302A;"><span style="position:relative;top:0.6px;left:0px">豐鄉瀑布</span></div>
<div class="p" style="left:325.8px;top:468px;width:49.4px;height:15.699999999999989px;line-height:15.699999999999989px;border-radius:7.849999999999994px;font-size:9px;letter-spacing:0.6px;padding-left:0.6px;background:#FFF000;color:#33302A;-webkit-text-stroke:0.2px #33302A;"><span style="position:relative;top:0.6px;left:0px">百年伯公</span></div>
<div class="p" style="left:397.8px;top:336px;width:84.09999999999998px;height:16px;line-height:16px;border-radius:8.0px;font-size:9px;letter-spacing:0.8px;padding-left:0.8px;background:#F0960E;color:#FFF3D2;"><span style="position:relative;top:0.6px;left:1.5px">大山背農民市集</span></div>
<div class="p" style="left:397.8px;top:359.4px;width:100.35px;height:15.400000000000034px;line-height:15.400000000000034px;border-radius:7.700000000000017px;font-size:9px;letter-spacing:0.85px;padding-left:0.85px;background:#E85814;color:#FFF3D2;"><span style="position:relative;top:0.6px;left:0px">橘子與他的<span style="font-size:10px">3D</span>朋友們</span></div>
<div class="p" style="left:426px;top:459px;width:91.39999999999998px;height:15.800000000000011px;line-height:15.800000000000011px;border-radius:7.900000000000006px;font-size:9px;letter-spacing:1.0px;padding-left:1.0px;background:#E85814;color:#FFF3D2;"><span style="position:relative;top:0.6px;left:2px">伯公湯屋(聯安橋)</span></div>
<div class="p" style="left:521px;top:287.2px;width:49.0px;height:13.600000000000023px;line-height:13.600000000000023px;border-radius:7.800000000000011px;font-size:9px;letter-spacing:1.0px;padding-left:1.0px;background:#fff;border:1px solid #9AA8A0;color:#444;"><span style="position:relative;top:0.6px;left:0px">茶亭古道</span></div>
<div class="p" style="left:503px;top:313.8px;width:56.799999999999955px;height:15.5px;line-height:15.5px;border-radius:7.75px;font-size:9px;letter-spacing:1.0px;padding-left:1.0px;background:#FFF000;color:#33302A;-webkit-text-stroke:0.2px #33302A;"><span style="position:relative;top:0.6px;left:0px">一方土水</span></div>
<div class="p" style="left:104.5px;top:328.8px;width:34.60000000000001px;height:14.800000000000011px;line-height:14.800000000000011px;border-radius:8.400000000000006px;font-size:9.5px;letter-spacing:0.2px;padding-left:0.2px;background:#fff;border:1px solid #E6D8B0;color:#33302A;-webkit-text-stroke:0.15px #33302A;"><span style="position:relative;top:0.6px;left:0px">竹<span style="font-size:10.8px">35</span></span></div>
<div class="p" style="left:509.7px;top:494px;width:35.39999999999996px;height:15px;line-height:15px;border-radius:8.5px;font-size:9.5px;letter-spacing:0.2px;padding-left:0.2px;background:#fff;border:1px solid #E6D8B0;color:#33302A;-webkit-text-stroke:0.15px #33302A;"><span style="position:relative;top:0.6px;left:0px">竹<span style="font-size:10.8px">35</span></span></div>
<div class="p" style="left:140px;top:355px;width:15.5px;height:50.5px;border:1px solid #9AA8A0;border-radius:8px;background:#fff;color:#3E9A55;font-size:9px;line-height:10px;text-align:center;"><div style="padding-top:3.7px">逃<br>學<br>步<br>道</div></div>
<div class="p" style="left:559.5px;top:168px;width:16px;height:36px;border:1px solid #E6D8B0;border-radius:8.5px;background:#fff;color:#33302A;font-size:10.5px;transform:rotate(-5deg);"><span style="position:absolute;left:50%;top:50%;transform:translate(-50%,-50%) rotate(-90deg);white-space:nowrap;letter-spacing:0.3px;-webkit-text-stroke:0.15px #33302A;">竹34</span></div>
<div class="p" style="left:468px;top:408.5px;width:37px;height:15.5px;line-height:15.5px;border:1px solid #E6D8B0;border-radius:8.5px;background:#fff;color:#33302A;font-size:10.5px;transform:rotate(-27deg);text-align:center;letter-spacing:0.3px;-webkit-text-stroke:0.15px #33302A;">竹34</div>
<div class="t" style="left:100.5px;top:315px;font-size:9px;letter-spacing:1.1px;color:#33302A;">往上坪/五峰</div>
<div class="t" style="left:463.5px;top:213px;font-size:9px;letter-spacing:1.0px;color:#33302A;">萬瑞森林</div>
<div class="t" style="left:453.5px;top:277px;font-size:9px;letter-spacing:1.0px;color:#33302A;">樂善堂</div>
<div class="t" style="left:271.8px;top:262.8px;font-size:7.5px;letter-spacing:0.0px;color:#2A2A2A;">(&thinsp;老大份休閒農場&thinsp;)</div>
<div class="t" style="left:490.5px;top:333.3px;font-size:7.5px;letter-spacing:0.1px;color:#2A2A2A;">(&thinsp;鳳凰谷農場前<span style="font-size:8.4px">100</span>公尺&thinsp;)</div>
<div class="t" style="left:502.5px;top:516.2px;font-size:9px;letter-spacing:0.9px;color:#33302A;">往內灣/尖石</div>
<div class="t" style="left:585.5px;top:162px;font-size:9.5px;line-height:9.9px;text-align:center;color:#33302A;">往<br>橫<br>山<br>／<br>竹<br>東</div>
</div></body></html>
